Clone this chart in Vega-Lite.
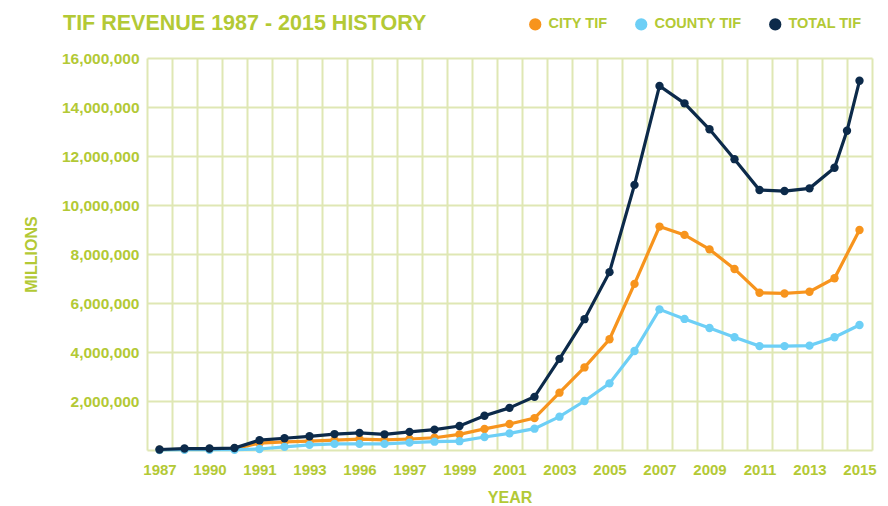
{
  "$schema": "https://vega.github.io/schema/vega-lite/v6.json",
  "width": 725,
  "height": 392,
  "autosize": {"type": "none"},
  "padding": {"left": 147, "top": 58, "right": 16, "bottom": 56},
  "background": "white",
  "config": {"view": {"stroke": null}, "font": "Liberation Sans"},
  "title": {
    "text": "TIF REVENUE 1987 - 2015 HISTORY",
    "anchor": "start",
    "frame": "group",
    "dx": -84,
    "dy": 64,
    "offset": 30,
    "baseline": "alphabetic",
    "font": "Liberation Sans",
    "fontSize": 21.5,
    "fontWeight": "bold",
    "color": "#b3c935"
  },
  "data": {
    "values": [
      {"year": 1987, "series": "CITY TIF", "value": 10000},
      {"year": 1988, "series": "CITY TIF", "value": 30000},
      {"year": 1989, "series": "CITY TIF", "value": 40000},
      {"year": 1990, "series": "CITY TIF", "value": 60000},
      {"year": 1991, "series": "CITY TIF", "value": 280000},
      {"year": 1992, "series": "CITY TIF", "value": 330000},
      {"year": 1993, "series": "CITY TIF", "value": 360000},
      {"year": 1994, "series": "CITY TIF", "value": 400000},
      {"year": 1995, "series": "CITY TIF", "value": 440000},
      {"year": 1996, "series": "CITY TIF", "value": 410000},
      {"year": 1997, "series": "CITY TIF", "value": 450000},
      {"year": 1998, "series": "CITY TIF", "value": 500000},
      {"year": 1999, "series": "CITY TIF", "value": 640000},
      {"year": 2000, "series": "CITY TIF", "value": 860000},
      {"year": 2001, "series": "CITY TIF", "value": 1060000},
      {"year": 2002, "series": "CITY TIF", "value": 1300000},
      {"year": 2003, "series": "CITY TIF", "value": 2340000},
      {"year": 2004, "series": "CITY TIF", "value": 3370000},
      {"year": 2005, "series": "CITY TIF", "value": 4520000},
      {"year": 2006, "series": "CITY TIF", "value": 6780000},
      {"year": 2007, "series": "CITY TIF", "value": 9120000},
      {"year": 2008, "series": "CITY TIF", "value": 8780000},
      {"year": 2009, "series": "CITY TIF", "value": 8190000},
      {"year": 2010, "series": "CITY TIF", "value": 7390000},
      {"year": 2011, "series": "CITY TIF", "value": 6420000},
      {"year": 2012, "series": "CITY TIF", "value": 6390000},
      {"year": 2013, "series": "CITY TIF", "value": 6460000},
      {"year": 2014, "series": "CITY TIF", "value": 7010000},
      {"year": 2015, "series": "CITY TIF", "value": 8980000},
      {"year": 1987, "series": "COUNTY TIF", "value": 0},
      {"year": 1988, "series": "COUNTY TIF", "value": 10000},
      {"year": 1989, "series": "COUNTY TIF", "value": 10000},
      {"year": 1990, "series": "COUNTY TIF", "value": 10000},
      {"year": 1991, "series": "COUNTY TIF", "value": 40000},
      {"year": 1992, "series": "COUNTY TIF", "value": 130000},
      {"year": 1993, "series": "COUNTY TIF", "value": 210000},
      {"year": 1994, "series": "COUNTY TIF", "value": 250000},
      {"year": 1995, "series": "COUNTY TIF", "value": 250000},
      {"year": 1996, "series": "COUNTY TIF", "value": 250000},
      {"year": 1997, "series": "COUNTY TIF", "value": 300000},
      {"year": 1998, "series": "COUNTY TIF", "value": 340000},
      {"year": 1999, "series": "COUNTY TIF", "value": 360000},
      {"year": 2000, "series": "COUNTY TIF", "value": 530000},
      {"year": 2001, "series": "COUNTY TIF", "value": 680000},
      {"year": 2002, "series": "COUNTY TIF", "value": 870000},
      {"year": 2003, "series": "COUNTY TIF", "value": 1360000},
      {"year": 2004, "series": "COUNTY TIF", "value": 2000000},
      {"year": 2005, "series": "COUNTY TIF", "value": 2720000},
      {"year": 2006, "series": "COUNTY TIF", "value": 4040000},
      {"year": 2007, "series": "COUNTY TIF", "value": 5740000},
      {"year": 2008, "series": "COUNTY TIF", "value": 5350000},
      {"year": 2009, "series": "COUNTY TIF", "value": 4980000},
      {"year": 2010, "series": "COUNTY TIF", "value": 4600000},
      {"year": 2011, "series": "COUNTY TIF", "value": 4240000},
      {"year": 2012, "series": "COUNTY TIF", "value": 4240000},
      {"year": 2013, "series": "COUNTY TIF", "value": 4260000},
      {"year": 2014, "series": "COUNTY TIF", "value": 4600000},
      {"year": 2015, "series": "COUNTY TIF", "value": 5100000},
      {"year": 1987, "series": "TOTAL TIF", "value": 20000},
      {"year": 1988, "series": "TOTAL TIF", "value": 60000},
      {"year": 1989, "series": "TOTAL TIF", "value": 60000},
      {"year": 1990, "series": "TOTAL TIF", "value": 80000},
      {"year": 1991, "series": "TOTAL TIF", "value": 400000},
      {"year": 1992, "series": "TOTAL TIF", "value": 480000},
      {"year": 1993, "series": "TOTAL TIF", "value": 560000},
      {"year": 1994, "series": "TOTAL TIF", "value": 650000},
      {"year": 1995, "series": "TOTAL TIF", "value": 700000},
      {"year": 1996, "series": "TOTAL TIF", "value": 640000},
      {"year": 1997, "series": "TOTAL TIF", "value": 740000},
      {"year": 1998, "series": "TOTAL TIF", "value": 830000},
      {"year": 1999, "series": "TOTAL TIF", "value": 980000},
      {"year": 2000, "series": "TOTAL TIF", "value": 1400000},
      {"year": 2001, "series": "TOTAL TIF", "value": 1720000},
      {"year": 2002, "series": "TOTAL TIF", "value": 2170000},
      {"year": 2003, "series": "TOTAL TIF", "value": 3720000},
      {"year": 2004, "series": "TOTAL TIF", "value": 5340000},
      {"year": 2005, "series": "TOTAL TIF", "value": 7260000},
      {"year": 2006, "series": "TOTAL TIF", "value": 10820000},
      {"year": 2007, "series": "TOTAL TIF", "value": 14860000},
      {"year": 2008, "series": "TOTAL TIF", "value": 14150000},
      {"year": 2009, "series": "TOTAL TIF", "value": 13090000},
      {"year": 2010, "series": "TOTAL TIF", "value": 11870000},
      {"year": 2011, "series": "TOTAL TIF", "value": 10610000},
      {"year": 2012, "series": "TOTAL TIF", "value": 10570000},
      {"year": 2013, "series": "TOTAL TIF", "value": 10680000},
      {"year": 2014, "series": "TOTAL TIF", "value": 11520000},
      {"year": 2014.5, "series": "TOTAL TIF", "value": 13030000},
      {"year": 2015, "series": "TOTAL TIF", "value": 15070000}
    ]
  },
  "encoding": {
    "x": {
      "field": "year",
      "type": "quantitative",
      "title": "YEAR",
      "scale": {"domain": [1986.5, 2015.5], "nice": false, "zero": false},
      "axis": {
        "values": [1986.5, 1987, 1987.5, 1988.5, 1989, 1989.5, 1990.5, 1991, 1991.5, 1992.5, 1993, 1993.5, 1994.5, 1995, 1995.5, 1996.5, 1997, 1997.5, 1998.5, 1999, 1999.5, 2000.5, 2001, 2001.5, 2002.5, 2003, 2003.5, 2004.5, 2005, 2005.5, 2006.5, 2007, 2007.5, 2008.5, 2009, 2009.5, 2010.5, 2011, 2011.5, 2012.5, 2013, 2013.5, 2014.5, 2015, 2015.5],
        "tickCount": 200,
        "tickMinStep": 0.1,
        "labelExpr": "datum.value % 1 !== 0 ? '' : datum.value == 1989 ? '1990' : datum.value == 1995 ? '1996' : '' + datum.value",
        "grid": true,
        "gridColor": {"condition": {"test": "datum.value % 1 === 0", "value": "transparent"}, "value": "#dfe7b4"},
        "gridWidth": 2,
        "domain": false,
        "ticks": false,
        "labelOverlap": false,
        "labelFlush": false,
        "labelBound": false,
        "labelFont": "Liberation Sans",
        "labelFontWeight": "bold",
        "labelFontSize": 15,
        "labelColor": "#b3c935",
        "labelPadding": 12,
        "titleFont": "Liberation Sans",
        "titleFontWeight": "bold",
        "titleFontSize": 16,
        "titleColor": "#b3c935",
        "titlePadding": 12
      }
    },
    "y": {
      "field": "value",
      "type": "quantitative",
      "title": "MILLIONS",
      "scale": {"domain": [0, 16000000], "nice": false},
      "axis": {
        "values": [0, 2000000, 4000000, 6000000, 8000000, 10000000, 12000000, 14000000, 16000000],
        "tickCount": 20,
        "format": ",.0f",
        "labelExpr": "datum.value == 0 ? '' : datum.label",
        "grid": true,
        "gridColor": "#dfe7b4",
        "gridWidth": 2,
        "domain": false,
        "ticks": false,
        "labelFont": "Liberation Sans",
        "labelFontWeight": "bold",
        "labelFontSize": 15.5,
        "labelColor": "#b3c935",
        "labelPadding": 8,
        "titleFont": "Liberation Sans",
        "titleFontWeight": "bold",
        "titleFontSize": 16,
        "titleColor": "#b3c935",
        "titlePadding": 22
      }
    },
    "color": {
      "field": "series",
      "type": "nominal",
      "scale": {"domain": ["CITY TIF", "COUNTY TIF", "TOTAL TIF"], "range": ["#f7941d", "#6dcff6", "#0c2a4a"]},
      "legend": {
        "title": null,
        "orient": "none",
        "legendX": 381,
        "legendY": -41,
        "direction": "horizontal",
        "symbolType": "circle",
        "symbolSize": 150,
        "labelFont": "Liberation Sans",
        "labelFontWeight": "bold",
        "labelFontSize": 14.5,
        "labelColor": "#b3c935",
        "labelOffset": 6,
        "columnPadding": 26,
        "encode": {
          "symbols": {
            "update": {
              "fill": {"scale": "color", "field": "value"},
              "stroke": {"value": "transparent"},
              "strokeWidth": {"value": 0},
              "opacity": {"value": 1}
            }
          }
        }
      }
    }
  },
  "layer": [
    {
      "transform": [{"filter": "datum.series === 'CITY TIF'"}],
      "mark": {"type": "line", "strokeWidth": 3.2, "point": {"filled": true, "size": 70, "opacity": 1}}
    },
    {
      "transform": [{"filter": "datum.series === 'COUNTY TIF'"}],
      "mark": {"type": "line", "strokeWidth": 3.2, "point": {"filled": true, "size": 70, "opacity": 1}}
    },
    {
      "transform": [{"filter": "datum.series === 'TOTAL TIF'"}],
      "mark": {"type": "line", "strokeWidth": 3.2, "point": {"filled": true, "size": 70, "opacity": 1}}
    }
  ]
}
